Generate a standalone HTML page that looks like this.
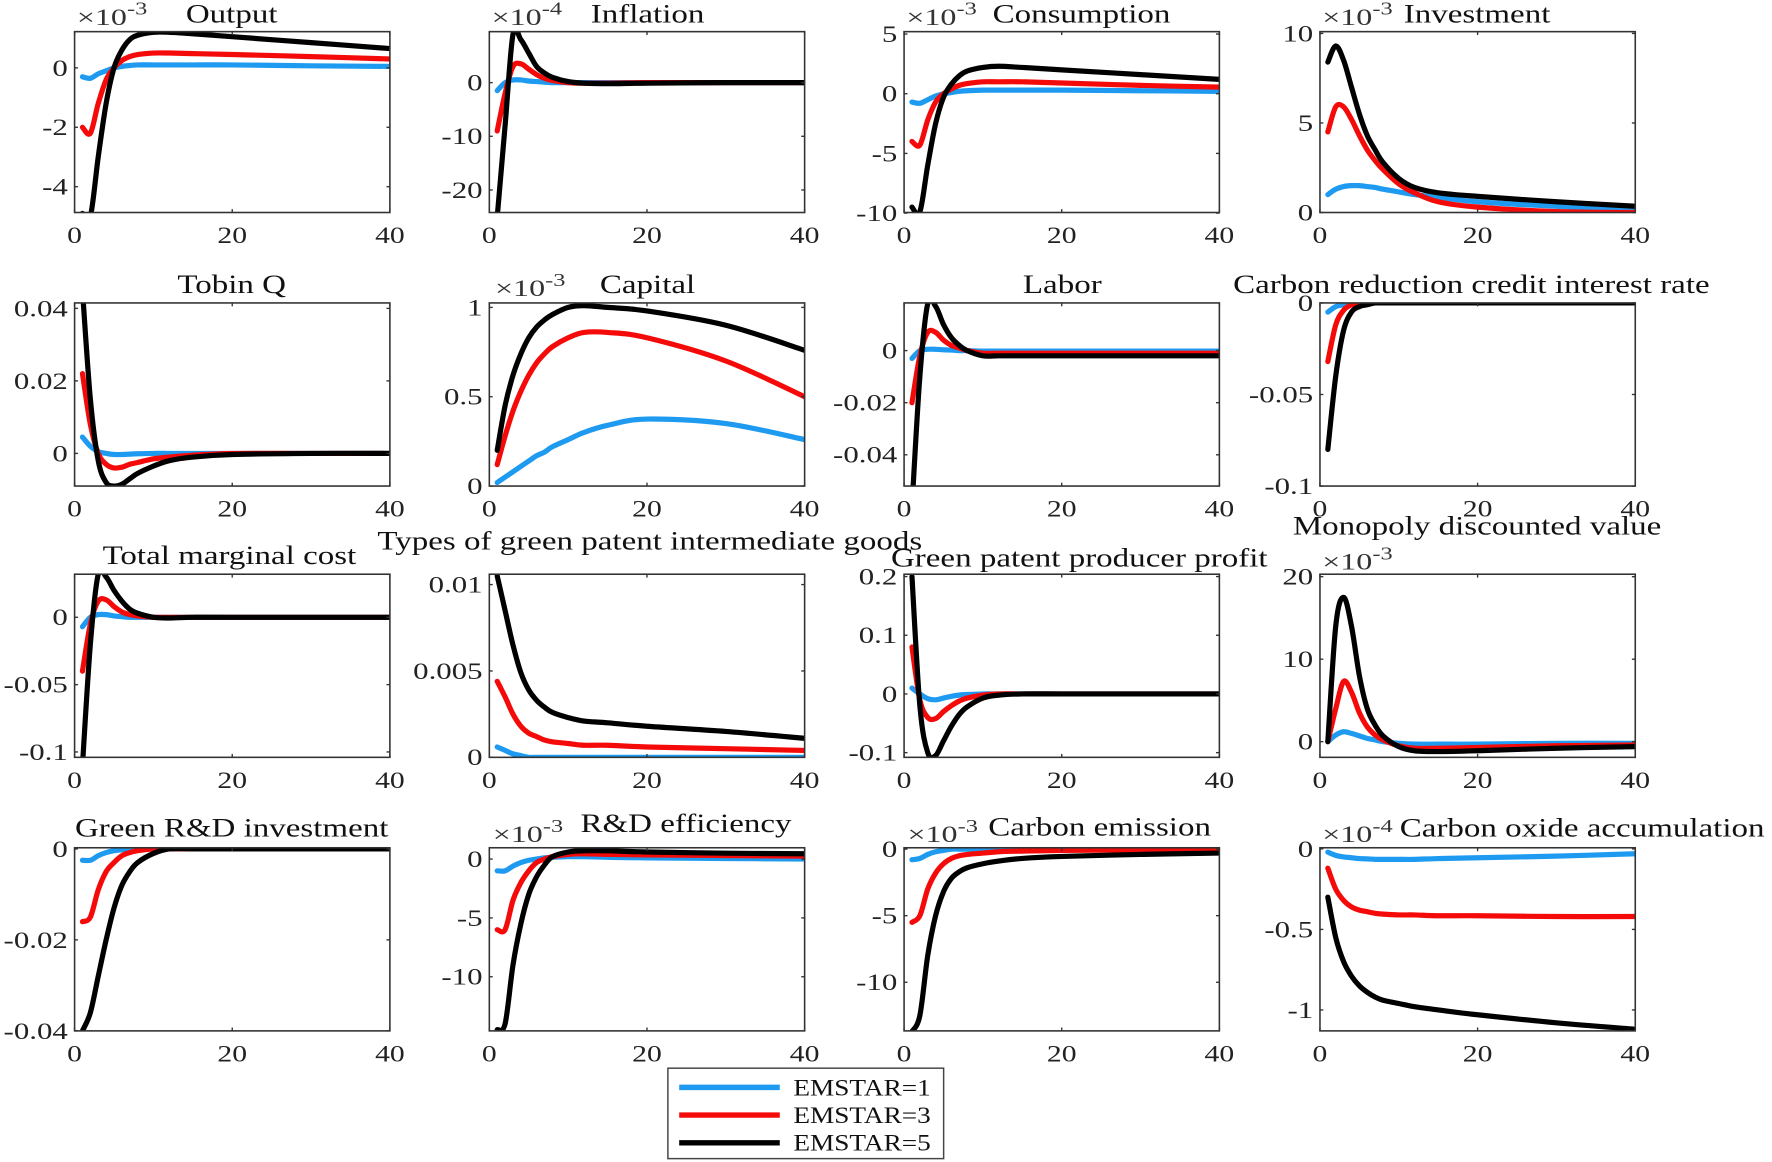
<!DOCTYPE html>
<html><head><meta charset="utf-8"><style>
html,body{margin:0;padding:0;background:#fff;}
svg{display:block;font-family:"Liberation Serif",serif;}
</style></head><body>
<svg id="fig" width="1772" height="1162" viewBox="0 0 1568 1028" preserveAspectRatio="none" xmlns="http://www.w3.org/2000/svg">
<rect width="1568" height="1028" fill="#fff"/>
</svg>
<script>
const periods=[1,2,3,4,5,6,7,8,10,12,15,20,30,40];
const xTicks=[0,20,40];
const legendLabels=["EMSTAR=1","EMSTAR=3","EMSTAR=5"];
// Output (x1e-3)
const output_e1=[-0.3,-0.35,-0.2,-0.1,0,0.05,0.08,0.1,0.1,0.1,0.1,0.1,0.07,0.05];
const output_e3=[-2,-2.2,-1.2,-0.4,0,0.25,0.38,0.45,0.5,0.5,0.48,0.45,0.38,0.3];
const output_e5=[-4.9,-5,-3,-1.2,0,0.6,0.95,1.1,1.2,1.2,1.15,1.05,0.85,0.65];
// Inflation (x1e-4)
const infl_e1=[-1.5,0,0.5,0.5,0.3,0.2,0.1,0,0,0,0,0,0,0];
const infl_e3=[-9,-2,3,3.5,2.5,1.5,0.8,0.4,0,-0.1,-0.1,0,0,0];
const infl_e5=[-25,-8,9,8,5.5,3,1.8,1,0.2,-0.1,-0.2,-0.1,0,0];
// Consumption (x1e-3)
const cons_e1=[-0.7,-0.8,-0.5,-0.2,0,0.1,0.2,0.25,0.3,0.3,0.3,0.3,0.25,0.2];
const cons_e3=[-4,-4.3,-2.2,-0.7,0,0.4,0.7,0.85,1,1,1,0.9,0.7,0.55];
const cons_e5=[-9.5,-9.9,-6,-2.5,-0.3,0.8,1.5,1.9,2.2,2.3,2.2,2,1.6,1.2];
// Investment (x1e-3)
const inv_e1=[1,1.3,1.45,1.5,1.5,1.45,1.4,1.3,1.15,1,0.85,0.6,0.35,0.2];
const inv_e3=[4.5,5.9,5.9,5.2,4.3,3.5,2.9,2.4,1.6,1.1,0.6,0.3,0.05,0];
const inv_e5=[8.4,9.3,8.5,7,5.5,4.3,3.5,2.8,1.9,1.4,1.1,0.9,0.6,0.35];
// Tobin Q
const tobin_e1=[0.0045,0.002,0.0005,0,-0.0003,-0.0003,-0.0002,-0.0001,0,0,0,0,0,0];
const tobin_e3=[0.022,0.008,0,-0.003,-0.004,-0.0038,-0.003,-0.0025,-0.0015,-0.001,-0.0005,0,0,0];
const tobin_e5=[0.045,0.015,-0.002,-0.008,-0.009,-0.0085,-0.007,-0.0055,-0.0035,-0.002,-0.001,-0.0003,0,0];
// Capital (x1e-3)
const cap_e1=[0.02,0.05,0.08,0.11,0.14,0.17,0.19,0.22,0.26,0.3,0.34,0.375,0.35,0.26];
const cap_e3=[0.12,0.28,0.42,0.53,0.62,0.69,0.74,0.78,0.83,0.86,0.86,0.83,0.7,0.5];
const cap_e5=[0.2,0.45,0.62,0.74,0.83,0.89,0.93,0.96,1.0,1.01,1.0,0.98,0.9,0.76];
// Labor
const labor_e1=[-0.003,0,0.0005,0.0005,0.0003,0.0002,0,0,-0.0002,-0.0002,-0.0002,-0.0002,-0.0002,-0.0002];
const labor_e3=[-0.02,-0.002,0.007,0.007,0.004,0.002,0.001,0,-0.001,-0.001,-0.001,-0.001,-0.001,-0.001];
const labor_e5=[-0.06,-0.01,0.018,0.017,0.01,0.005,0.002,0,-0.002,-0.002,-0.002,-0.002,-0.002,-0.002];
// Carbon reduction credit interest rate
const crcir_e1=[-0.005,-0.002,-0.001,0,0,0,0,0,0,0,0,0,0,0];
const crcir_e3=[-0.032,-0.012,-0.004,-0.001,0,0,0,0,0,0,0,0,0,0];
const crcir_e5=[-0.08,-0.04,-0.015,-0.005,-0.002,-0.001,0,0,0,0,0,0,0,0];
// Total marginal cost
const tmc_e1=[-0.007,0,0.002,0.002,0.001,0.0005,0,0,0,0,0,0,0,0];
const tmc_e3=[-0.04,-0.005,0.012,0.013,0.008,0.004,0.002,0.001,0,0,0,0,0,0];
const tmc_e5=[-0.11,-0.02,0.032,0.03,0.02,0.012,0.006,0.003,0,-0.0005,0,0,0,0];
// Types of green patent intermediate goods
const types_e1=[0.0006,0.0004,0.0002,0.0001,0,0,0,0,0,0,0,0,0,0];
const types_e3=[0.0044,0.0035,0.0025,0.0018,0.0014,0.0012,0.001,0.0009,0.0008,0.0007,0.0007,0.0006,0.0005,0.0004];
const types_e5=[0.0105,0.0085,0.0065,0.0049,0.0039,0.0033,0.0029,0.0026,0.0023,0.0021,0.002,0.0018,0.0015,0.0011];
// Green patent producer profit
const gpp_e1=[0.01,0,-0.008,-0.01,-0.007,-0.004,-0.002,-0.001,0,0,0,0,0,0];
const gpp_e3=[0.08,-0.01,-0.04,-0.042,-0.03,-0.02,-0.012,-0.007,-0.002,0,0,0,0,0];
const gpp_e5=[0.2,-0.02,-0.1,-0.105,-0.08,-0.055,-0.035,-0.022,-0.007,-0.002,0,0,0,0];
// Monopoly discounted value (x1e-3)
const mdv_e1=[0,0.8,1.2,1,0.7,0.4,0.2,0,-0.2,-0.3,-0.3,-0.3,-0.2,-0.2];
const mdv_e3=[0,4,7.3,6,3.5,1.8,0.8,0.2,-0.5,-0.8,-0.8,-0.7,-0.5,-0.4];
const mdv_e5=[0,14,17.5,14,8,4,2,0.7,-0.6,-1.1,-1.2,-1.1,-0.8,-0.6];
// Green R&D investment
const grd_e1=[-0.0025,-0.0025,-0.0015,-0.0008,-0.0004,-0.0002,0,0,0,0,0,0,0,0];
const grd_e3=[-0.016,-0.015,-0.009,-0.005,-0.003,-0.0015,-0.0008,-0.0004,0,0,0,0,0,0];
const grd_e5=[-0.04,-0.036,-0.028,-0.02,-0.013,-0.008,-0.005,-0.003,-0.001,0,0,0,0,0];
// R&D efficiency (x1e-3)
const rde_e1=[-1,-1,-0.6,-0.3,-0.1,0,0.1,0.15,0.2,0.2,0.15,0.1,0.05,0];
const rde_e3=[-6,-6,-3.5,-2,-1,-0.3,0,0.2,0.4,0.45,0.4,0.35,0.3,0.25];
const rde_e5=[-14.5,-14,-9,-5.5,-3,-1.5,-0.5,0.2,0.6,0.7,0.7,0.6,0.5,0.45];
// Carbon emission (x1e-3)
const ce_e1=[-0.8,-0.7,-0.4,-0.2,-0.1,0,0,0,0,0,0,0,0,0];
const ce_e3=[-5.5,-5,-3,-1.8,-1.1,-0.7,-0.5,-0.4,-0.3,-0.2,-0.15,-0.1,-0.05,0];
const ce_e5=[-13.7,-12.5,-8,-5,-3.2,-2.2,-1.7,-1.4,-1.1,-0.9,-0.7,-0.55,-0.4,-0.3];
// Carbon oxide accumulation (x1e-4)
const coa_e1=[-0.02,-0.04,-0.05,-0.055,-0.06,-0.062,-0.065,-0.065,-0.065,-0.065,-0.06,-0.055,-0.045,-0.03];
const coa_e3=[-0.12,-0.25,-0.32,-0.36,-0.38,-0.39,-0.4,-0.405,-0.41,-0.41,-0.415,-0.415,-0.42,-0.42];
const coa_e5=[-0.3,-0.55,-0.7,-0.79,-0.85,-0.89,-0.92,-0.94,-0.96,-0.98,-1.0,-1.03,-1.08,-1.12];

const NS="http://www.w3.org/2000/svg";
const svg=document.getElementById('fig');
const colors=["#1e9bf0","#f50a0a","#000000"];
const colX=[66,433,800,1168], colW=279;
const rowY=[[28,188],[268,430],[508,670],[750,912]];
function el(tag,attrs,parent){const e=document.createElementNS(NS,tag);for(const k in attrs)e.setAttribute(k,attrs[k]);(parent||svg).appendChild(e);return e;}
function stxt(s,x,y,sx,attrs,parent){
  const a=Object.assign({x:0,y:0,transform:'translate('+x+','+y+') scale('+sx+',1)'},attrs);
  const e=el('text',a,parent);if(s)e.textContent=s;return e;
}

const panels=[
 {name:"output",title:"Output",tx:205,ty:20,c:0,r:0,ylim:[-4.87,1.22],yt:[0,-2,-4],exp:"-3",ex:68,ey:22,d:[output_e1,output_e3,output_e5]},
 {name:"inflation",title:"Inflation",tx:573,ty:20,c:1,r:0,ylim:[-24.2,9.5],yt:[0,-10,-20],exp:"-4",ex:435,ey:22,d:[infl_e1,infl_e3,infl_e5]},
 {name:"consumption",title:"Consumption",tx:957,ty:20,c:2,r:0,ylim:[-9.95,5.2],yt:[5,0,-5,-10],exp:"-3",ex:802,ey:22,d:[cons_e1,cons_e3,cons_e5]},
 {name:"investment",title:"Investment",tx:1307,ty:20,c:3,r:0,ylim:[0,10.1],yt:[10,5,0],exp:"-3",ex:1170,ey:22,d:[inv_e1,inv_e3,inv_e5]},
 {name:"tobin-q",title:"Tobin Q",tx:205,ty:259,c:0,r:1,ylim:[-0.009,0.0415],yt:[0.04,0.02,0],d:[tobin_e1,tobin_e3,tobin_e5]},
 {name:"capital",title:"Capital",tx:573,ty:259,c:1,r:1,ylim:[0,1.025],yt:[1,0.5,0],exp:"-3",ex:438,ey:262,d:[cap_e1,cap_e3,cap_e5]},
 {name:"labor",title:"Labor",tx:940,ty:259,c:2,r:1,ylim:[-0.052,0.0183],yt:[0,-0.02,-0.04],d:[labor_e1,labor_e3,labor_e5]},
 {name:"carbon-credit-rate",title:"Carbon reduction credit interest rate",tx:1302,ty:259,c:3,r:1,ylim:[-0.1,0],yt:[0,-0.05,-0.1],d:[crcir_e1,crcir_e3,crcir_e5]},
 {name:"total-marginal-cost",title:"Total marginal cost",tx:203,ty:499,c:0,r:2,ylim:[-0.104,0.032],yt:[0,-0.05,-0.1],d:[tmc_e1,tmc_e3,tmc_e5]},
 {name:"green-patent-goods",title:"Types of green patent intermediate goods",tx:575,ty:486,c:1,r:2,ylim:[0,0.0106],yt:[0.01,0.005,0],d:[types_e1,types_e3,types_e5]},
 {name:"green-patent-profit",title:"Green patent producer profit",tx:955,ty:501,c:2,r:2,ylim:[-0.108,0.204],yt:[0.2,0.1,0,-0.1],d:[gpp_e1,gpp_e3,gpp_e5]},
 {name:"monopoly-value",title:"Monopoly discounted value",tx:1307,ty:473,c:3,r:2,ylim:[-1.9,20.3],yt:[20,10,0],exp:"-3",ex:1170,ey:504,d:[mdv_e1,mdv_e3,mdv_e5]},
 {name:"green-rd-investment",title:"Green R&D investment",tx:205,ty:740,c:0,r:3,ylim:[-0.04,0.00025],yt:[0,-0.02,-0.04],d:[grd_e1,grd_e3,grd_e5]},
 {name:"rd-efficiency",title:"R&D efficiency",tx:607,ty:736,c:1,r:3,ylim:[-14.6,0.96],yt:[0,-5,-10],exp:"-3",ex:436,ey:745,d:[rde_e1,rde_e3,rde_e5]},
 {name:"carbon-emission",title:"Carbon emission",tx:973,ty:739,c:2,r:3,ylim:[-13.65,0.1],yt:[0,-5,-10],exp:"-3",ex:803,ey:745,d:[ce_e1,ce_e3,ce_e5]},
 {name:"carbon-oxide-accumulation",title:"Carbon oxide accumulation",tx:1400,ty:740,c:3,r:3,ylim:[-1.13,0.007],yt:[0,-0.5,-1],exp:"-4",ex:1170,ey:745,d:[coa_e1,coa_e3,coa_e5]}
];

function smooth(pts){
  let d="M"+pts[0][0].toFixed(2)+","+pts[0][1].toFixed(2);
  for(let i=0;i<pts.length-1;i++){
    const p0=pts[Math.max(0,i-1)],p1=pts[i],p2=pts[i+1],p3=pts[Math.min(pts.length-1,i+2)];
    const c1=[p1[0]+(p2[0]-p0[0])/6,p1[1]+(p2[1]-p0[1])/6];
    const c2=[p2[0]-(p3[0]-p1[0])/6,p2[1]-(p3[1]-p1[1])/6];
    d+=" C"+c1[0].toFixed(2)+","+c1[1].toFixed(2)+" "+c2[0].toFixed(2)+","+c2[1].toFixed(2)+" "+p2[0].toFixed(2)+","+p2[1].toFixed(2);
  }
  return d;
}

const defs=el('defs',{});
panels.forEach((p,pi)=>{
  const x0=colX[p.c], x1=x0+colW, y0=rowY[p.r][0], y1=rowY[p.r][1];
  const sx=v=>x0+(v-0)/(40-0)*(x1-x0);
  const sy=v=>y1-(v-p.ylim[0])/(p.ylim[1]-p.ylim[0])*(y1-y0);
  const g=el('g',{});
  
  
  const cp=el('clipPath',{id:'clip'+pi},defs);
  el('rect',{x:x0,y:y0,width:x1-x0,height:y1-y0},cp);
  const sg=el('g',{'clip-path':'url(#clip'+pi+')'},g);
  p.d.forEach((arr,si)=>{
    const pts=periods.map((t,i)=>[sx(t),sy(arr[i])]);
    const path=el('path',{d:smooth(pts),fill:'none',stroke:colors[si],'stroke-width':4.6,'stroke-linejoin':'round','stroke-linecap':'round'},sg);
    
    
  });
  const fr=el('rect',{x:x0,y:y0,width:x1-x0,height:y1-y0,fill:'none',stroke:'#333','stroke-width':1.4},g);
  
  
  xTicks.forEach(v=>{
    const X=sx(v);
    el('line',{x1:X,y1:y1,x2:X,y2:y1-3,stroke:'#333','stroke-width':1.2},g);
    el('line',{x1:X,y1:y0,x2:X,y2:y0+3,stroke:'#333','stroke-width':1.2},g);
    const t=stxt(String(v),X,y1+27,1.25,{'text-anchor':'middle','font-size':21,fill:'#222'},g);
    
    
  });
  p.yt.forEach(v=>{
    const Y=sy(v);
    el('line',{x1:x0,y1:Y,x2:x0+3,y2:Y,stroke:'#333','stroke-width':1.2},g);
    el('line',{x1:x1,y1:Y,x2:x1-3,y2:Y,stroke:'#333','stroke-width':1.2},g);
    const t=stxt(String(v),x0-6,Y+7,1.3,{'text-anchor':'end','font-size':21,fill:'#222'},g);
    
    
  });
  const tt=stxt(p.title,p.tx,p.ty,1.27,{'text-anchor':'middle','font-size':23,fill:'#111'},g);
  
  
  if(p.exp){
    const e=stxt('',p.ex,p.ey,1.35,{'font-size':21,fill:'#333'},g);
    
    
    const a=el('tspan',{},e);a.textContent='×10';
    const b=el('tspan',{dy:-9,'font-size':16},e);b.textContent=p.exp;
  }
});

const lg=el('g',{});


el('rect',{x:591,y:945,width:244,height:80,fill:'#fff',stroke:'#444','stroke-width':1.3},lg);
legendLabels.forEach((lab,i)=>{
  const y=962+i*24.5;
  const e=el('g',{},lg);
  
  
  el('line',{x1:601,y1:y,x2:690,y2:y,stroke:colors[i],'stroke-width':4.8},e);
  stxt(lab,702,y+7,1.15,{'font-size':21,fill:'#111'},e);
});
</script>
</body></html>
